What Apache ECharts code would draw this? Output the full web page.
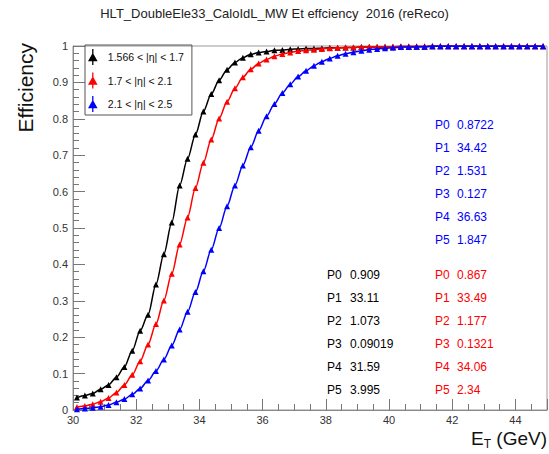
<!DOCTYPE html>
<html><head><meta charset="utf-8">
<script src="https://cdn.jsdelivr.net/npm/echarts@6/dist/echarts.min.js"></script>
<style>html,body{margin:0;padding:0;background:#fff}#c{width:549px;height:454px}</style>
</head><body><div id="c"></div>
<script>
const titleText = 'HLT_DoubleEle33_CaloIdL_MW Et effciency  2016 (reReco)';
const seriesNames = ['1.566 < |η| < 1.7', '1.7 < |η| < 2.1', '2.1 < |η| < 2.5'];
const seriesColors = ['#000000', '#ff0000', '#0000ff'];
const binCenters = [30.125, 30.375, 30.625, 30.875, 31.125, 31.375, 31.625, 31.875, 32.125, 32.375,
  32.625, 32.875, 33.125, 33.375, 33.625, 33.875, 34.125, 34.375, 34.625, 34.875,
  35.125, 35.375, 35.625, 35.875, 36.125, 36.375, 36.625, 36.875, 37.125, 37.375,
  37.625, 37.875, 38.125, 38.375, 38.625, 38.875, 39.125, 39.375, 39.625, 39.875,
  40.125, 40.375, 40.625, 40.875, 41.125, 41.375, 41.625, 41.875, 42.125, 42.375,
  42.625, 42.875, 43.125, 43.375, 43.625, 43.875, 44.125, 44.375, 44.625, 44.875];
const effBlack = [0.034, 0.040, 0.045, 0.057, 0.069, 0.090, 0.118, 0.163, 0.218, 0.262,
  0.345, 0.428, 0.515, 0.617, 0.690, 0.757, 0.820, 0.868, 0.906, 0.935,
  0.955, 0.968, 0.977, 0.982, 0.985, 0.988, 0.989, 0.991, 0.992, 0.993,
  0.993, 0.994, 0.995, 0.995, 0.996, 0.996, 0.997, 0.997, 0.997, 0.998,
  0.998, 0.998, 0.998, 0.998, 0.998, 0.999, 0.999, 0.999, 0.999, 0.999,
  0.999, 0.999, 0.999, 0.999, 0.999, 0.999, 0.999, 0.999, 0.999, 0.999];
const effRed = [0.008, 0.011, 0.016, 0.023, 0.033, 0.048, 0.069, 0.097, 0.134, 0.180,
  0.236, 0.301, 0.374, 0.455, 0.529, 0.610, 0.679, 0.743, 0.801, 0.847,
  0.884, 0.914, 0.936, 0.952, 0.963, 0.972, 0.978, 0.982, 0.986, 0.988,
  0.990, 0.992, 0.994, 0.995, 0.996, 0.996, 0.997, 0.998, 0.998, 0.998,
  0.998, 0.999, 0.999, 0.999, 0.999, 0.999, 0.999, 0.999, 0.999, 0.999,
  0.999, 0.999, 0.999, 0.999, 0.999, 0.999, 0.999, 0.999, 0.999, 0.999];
const effBlue = [0.002, 0.004, 0.006, 0.009, 0.014, 0.021, 0.030, 0.043, 0.059, 0.081,
  0.107, 0.139, 0.177, 0.221, 0.270, 0.324, 0.381, 0.440, 0.500, 0.560,
  0.617, 0.672, 0.722, 0.767, 0.807, 0.841, 0.871, 0.895, 0.916, 0.932,
  0.946, 0.957, 0.966, 0.973, 0.979, 0.983, 0.987, 0.990, 0.992, 0.994,
  0.995, 0.997, 0.997, 0.998, 0.998, 0.999, 0.999, 0.999, 0.999, 0.999,
  0.999, 0.999, 0.999, 0.999, 0.999, 0.999, 0.999, 0.999, 0.999, 0.999];
const xTickLabels = [30, 32, 34, 36, 38, 40, 42, 44];
const paramNames = ['P0', 'P1', 'P2', 'P3', 'P4', 'P5'];
const paramsBlack = ['0.909', '33.11', '1.073', '0.09019', '31.59', '3.995'];
const paramsRed = ['0.867', '33.49', '1.177', '0.1321', '34.06', '2.34'];
const paramsBlue = ['0.8722', '34.42', '1.531', '0.127', '36.63', '1.847'];

const FONT = '"Liberation Sans", Helvetica, Arial, sans-serif';
const chart = echarts.init(document.getElementById('c'), null, {renderer: 'svg'});

const allEff = [effBlack, effRed, effBlue];
const series = allEff.map((eff, k) => ({
  type: 'line',
  name: seriesNames[k],
  xAxisIndex: 0,
  yAxisIndex: 0,
  data: binCenters.map((x, i) => [x, eff[i]]),
  smooth: 0.3,
  smoothMonotone: 'x',
  symbol: 'triangle',
  symbolSize: 6,
  lineStyle: {width: 1.5, color: seriesColors[k]},
  itemStyle: {color: seriesColors[k], borderWidth: 0},
  emphasis: {disabled: true},
  clip: false,
  z: 2 + k
}));

function paramTexts(vals, color, xName, xVal, yTop) {
  const out = [];
  vals.forEach((v, i) => {
    out.push({type: 'text', x: xName, y: yTop + i * 23, style: {text: paramNames[i], font: '12px ' + FONT, fill: color, textVerticalAlign: 'middle'}});
    out.push({type: 'text', x: xVal, y: yTop + i * 23, style: {text: v, font: '12px ' + FONT, fill: color, textVerticalAlign: 'middle'}});
  });
  return out;
}

const tickColor = '#777';
const option = {
  animation: false,
  backgroundColor: '#fff',
  title: {
    text: titleText,
    left: 'center',
    top: 7,
    padding: [0, 0, 0, 58],
    textStyle: {fontSize: 13, fontWeight: 'normal', color: '#222', fontFamily: FONT}
  },
  legend: {
    data: seriesNames,
    left: 85,
    top: 45,
    orient: 'vertical',
    itemWidth: 20,
    itemHeight: 16,
    itemGap: 7.5,
    padding: [4, 8, 3, 3],
    borderColor: '#555',
    borderWidth: 1,
    selectedMode: false,
    icon: 'path://M4.6,0 H5.4 V10 H4.6 Z M2,7.6 L5,2.4 L8,7.6 Z',
    textStyle: {fontSize: 10.5, color: '#111', fontFamily: FONT}
  },
  grid: {left: 73, right: 2, top: 46, bottom: 44, show: true, borderColor: '#999', borderWidth: 1, outerBoundsMode: 'none', containLabel: false},
  xAxis: [{
    type: 'value', min: 30, max: 45, interval: 0.5, position: 'bottom',
    axisLine: {show: true, lineStyle: {color: '#888'}},
    axisTick: {show: true, inside: true, length: 6, lineStyle: {color: tickColor}},
    axisLabel: {
      margin: 4, fontSize: 11, color: '#333', fontFamily: FONT,
      formatter: v => (xTickLabels.indexOf(Math.round(v * 1000) / 1000) >= 0 ? String(v) : '')
    },
    splitLine: {show: false}
  }, {
    type: 'value', min: 30, max: 45, interval: 2, position: 'bottom',
    axisLine: {show: false},
    axisTick: {show: true, inside: true, length: 11, lineStyle: {color: tickColor}},
    axisLabel: {show: false},
    splitLine: {show: false}
  }],
  yAxis: {
    type: 'value', min: 0, max: 1, interval: 0.1,
    axisLine: {show: true, lineStyle: {color: '#888'}},
    axisTick: {show: true, inside: true, length: 12, lineStyle: {color: tickColor}},
    minorTick: {show: true, splitNumber: 5, length: 6, lineStyle: {color: tickColor}},
    axisLabel: {margin: 5, fontSize: 11, color: '#333', fontFamily: FONT},
    splitLine: {show: false}
  },
  graphic: [
    {type: 'text', x: 25, y: 43, rotation: Math.PI / 2,
      style: {text: 'Efficiency', font: '21px ' + FONT, fill: '#111', textAlign: 'right', textVerticalAlign: 'middle'}},
    {type: 'text', x: 547, y: 438,
      style: {text: '{e|E}{s|T}{e| (GeV)}', textAlign: 'right', textVerticalAlign: 'middle', fill: '#111',
        rich: {e: {fontSize: 19, fontFamily: FONT, fill: '#111'}, s: {fontSize: 12, fontFamily: FONT, fill: '#111', padding: [11, 0, 0, 0]}}}}
  ].concat(
    paramTexts(paramsBlack, '#000000', 327, 350, 275),
    paramTexts(paramsRed, '#ff0000', 435, 457, 275),
    paramTexts(paramsBlue, '#0000ff', 435, 457, 125)
  ),
  series: series
};
chart.setOption(option);
</script>
</body></html>
